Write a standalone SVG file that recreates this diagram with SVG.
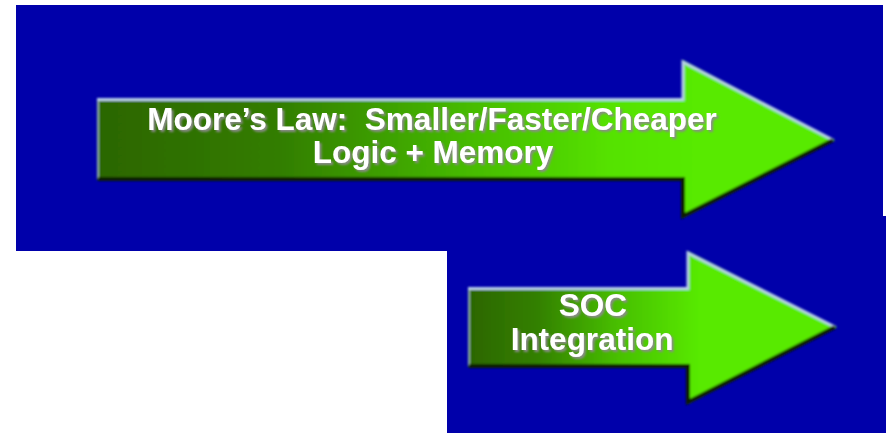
<svg xmlns="http://www.w3.org/2000/svg" width="891" height="433" viewBox="0 0 891 433">
<defs>
<linearGradient id="g1" gradientUnits="userSpaceOnUse" x1="97" y1="0" x2="700" y2="0">
<stop offset="0" stop-color="#2c6600"/>
<stop offset="0.3" stop-color="#327d00"/>
<stop offset="0.6" stop-color="#45b800"/>
<stop offset="0.85" stop-color="#55e200"/>
<stop offset="1" stop-color="#58ea00"/>
</linearGradient>
<linearGradient id="g2" gradientUnits="userSpaceOnUse" x1="468" y1="0" x2="700" y2="0">
<stop offset="0" stop-color="#2c6600"/>
<stop offset="0.3" stop-color="#338000"/>
<stop offset="0.65" stop-color="#48c000"/>
<stop offset="1" stop-color="#58ea00"/>
</linearGradient>
<filter id="soft" x="-5%" y="-10%" width="110%" height="120%">
<feGaussianBlur stdDeviation="0.8"/>
</filter>
<filter id="shadow" x="-10%" y="-30%" width="120%" height="160%">
<feDropShadow dx="2" dy="2" stdDeviation="0.8" flood-color="#8a8a8a" flood-opacity="1"/>
</filter>
<style>
.lbl{font-family:"Liberation Sans",Arial,sans-serif;font-weight:bold;font-size:31.5px;fill:#ffffff;text-anchor:middle;white-space:pre;}
.hi{fill:none;stroke:#b8d0e8;stroke-width:3;stroke-linejoin:miter;}
.lf{fill:none;stroke:#8fb0a0;stroke-width:2;}
.lo{fill:none;stroke:#0c1a00;stroke-width:4;stroke-linejoin:miter;}
</style>
</defs>
<rect x="0" y="0" width="891" height="433" fill="#ffffff"/>
<rect x="16" y="5" width="867" height="246" fill="#0000aa"/>
<rect x="447" y="216" width="439" height="217" fill="#0000aa"/>
<g id="arrow-moore">
<g filter="url(#soft)">
<polygon points="97,98 683,98 683,60 835,140 683,218 683,180 97,180" fill="url(#g1)"/>
<line class="lf" x1="98" y1="100" x2="98" y2="178"/>
<polyline class="hi" points="97,99.5 683,99.5 683,62 833,140"/>
<polyline class="lo" points="98,179 683,179 683,216 833,140"/>
</g>
<text class="lbl" filter="url(#shadow)" x="432" y="130" xml:space="preserve">Moore’s Law:  Smaller/Faster/Cheaper</text>
<text class="lbl" filter="url(#shadow)" x="433" y="163">Logic + Memory</text>
</g>
<g id="arrow-soc">
<g filter="url(#soft)">
<polygon points="468,287 688,287 688,251 837,327 688,404 688,367 468,367" fill="url(#g2)"/>
<line class="lf" x1="469" y1="289" x2="469" y2="365"/>
<polyline class="hi" points="468,288.5 688,288.5 688,253 835,327"/>
<polyline class="lo" points="469,366 688,366 688,402 835,327"/>
</g>
<text class="lbl" filter="url(#shadow)" x="593" y="316">SOC</text>
<text class="lbl" filter="url(#shadow)" x="592" y="350">Integration</text>
</g>
</svg>
